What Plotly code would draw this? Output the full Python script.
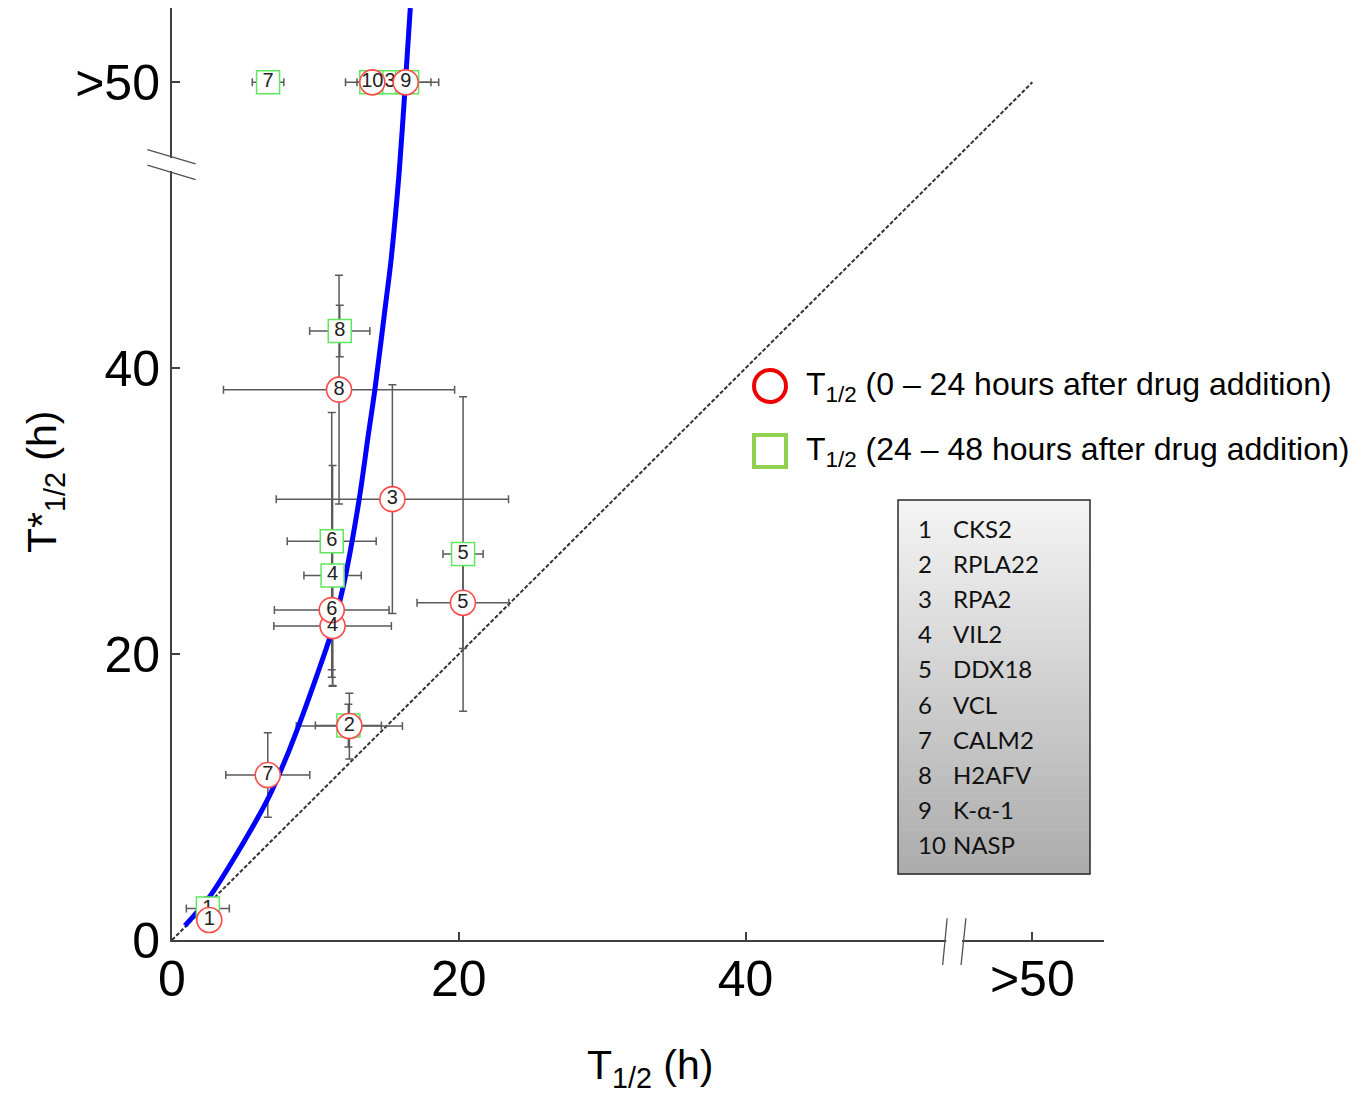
import plotly.graph_objects as go

# ---------------- data ----------------
GT50 = 60  # axis position used for the ">50" category
gene_ids = ["1", "2", "3", "4", "5", "6", "7", "8", "9", "10"]
gene_names = ["CKS2", "RPLA22", "RPA2", "VIL2", "DDX18", "VCL", "CALM2", "H2AFV", "K-α-1", "NASP"]

# 0-24 h after drug addition (red circles); None in T* means ">50"
red_T = [2.6, 12.37, 15.37, 11.2, 20.29, 11.14, 6.68, 11.65, 16.3, 13.97]
red_Ts = [1.4, 14.97, 30.84, 21.96, 23.59, 23.08, 11.54, 38.5, None, None]
red_xerr = [0.5, 3.7, 8.1, 4.1, 3.2, 4.0, 2.93, 8.06, 2.3, 1.87]
red_yerr = [0.5, 2.3, 8.0, 4.2, 3.2, 4.7, 2.95, 8.0, 0, 0]

# 24-48 h after drug addition (green squares)
green_T = [2.5, 12.3, 15.2, 11.2, 20.3, 11.14, 6.7, 11.7, 16.4, 13.9]
green_Ts = [2.2, 15.0, None, 25.5, 27.0, 27.9, None, 42.6, None, None]
green_xerr = [1.5, 2.3, 1.0, 2.0, 1.4, 3.1, 1.1, 2.1, 1.66, 1.0]
green_yerr = [0.8, 1.5, 0, 7.7, 11.0, 9.0, 0, 1.8, 0, 0]

# fitted curve (blue)
curve_T = [0.9, 2.6, 4.5, 6.75, 7.9, 8.95, 10.1, 11.15, 12.0, 13.05, 13.7, 14.15, 14.9, 15.27, 15.85, 16.28, 16.62]
curve_Ts = [1.0, 3.0, 6.0, 10.0, 12.6, 15.3, 18.5, 21.6, 25.0, 30.8, 35.4, 38.5, 44.5, 47.5, 53.8, 60.0, 65.2]

# identity line T* = T
diag_T = [0, 50]
diag_Ts = [0, 50]

tick_vals = [0, 20, 40, 50]
tick_text = ["0", "20", "40", ">50"]

legend_labels = ["T<sub>1/2</sub> (0 – 24 hours after drug addition)",
                 "T<sub>1/2</sub> (24 – 48 hours after drug addition)"]
x_title = "T<sub>1/2</sub> (h)"
y_title = "T*<sub>1/2</sub> (h)"

# ---------------- layout geometry ----------------
W, H = 1355, 1098
ML, MR, MT, MB = 172, 251, 8, 158
PW, PH = W - ML - MR, H - MT - MB
XMAX, YMAX = 65, 65.2


def pos(v):
    return GT50 if v is None else v


def px(x):
    return (x - ML) / PW


def py(y):
    return (MT + PH - y) / PH


red_y = [pos(v) for v in red_Ts]
green_y = [pos(v) for v in green_Ts]
tick_pos = [GT50 if t == ">50" else v for v, t in zip(tick_vals, tick_text)]
diag_plot = [GT50 if v == 50 else v for v in diag_T]
diag_plot_y = [GT50 if v == 50 else v for v in diag_Ts]

FONT = "Liberation Sans, Arial, sans-serif"
ERR = "#5a5a5a"
RED = "#ff4a4a"
GREEN = "#5ee65e"

fig = go.Figure()

# identity line
fig.add_trace(go.Scatter(x=diag_plot, y=diag_plot_y, mode="lines",
                         line=dict(color="#333333", width=2, dash="4px,2px"),
                         hoverinfo="skip", showlegend=False))

# error bars (drawn beneath all markers)
for xs, ys, ex, ey in [(red_T, red_y, red_xerr, red_yerr),
                       (green_T, green_y, green_xerr, green_yerr)]:
    fig.add_trace(go.Scatter(
        x=xs, y=ys, mode="markers",
        marker=dict(size=1, color="rgba(0,0,0,0)"),
        error_x=dict(type="data", array=ex, color=ERR, thickness=1.5, width=4),
        error_y=dict(type="data", array=ey, color=ERR, thickness=1.5, width=4),
        hoverinfo="skip", showlegend=False))

# blue curve
fig.add_trace(go.Scatter(x=curve_T, y=curve_Ts, mode="lines", line_shape="spline",
                         line=dict(color="#0000ff", width=5, smoothing=0.8),
                         hoverinfo="skip", showlegend=False))

# green squares
fig.add_trace(go.Scatter(
    x=green_T, y=green_y, mode="markers+text", text=gene_ids,
    textposition="middle center", textfont=dict(family=FONT, size=20, color="#222"),
    marker=dict(symbol="square", size=23, color="white", line=dict(color=GREEN, width=1.5)),
    showlegend=False))

# red circles
fig.add_trace(go.Scatter(
    x=red_T, y=red_y, mode="markers+text", text=gene_ids,
    textposition="middle center", textfont=dict(family=FONT, size=20, color="#222"),
    marker=dict(symbol="circle", size=25, color="white", line=dict(color=RED, width=1.6)),
    showlegend=False))

shapes = []
annotations = []


def dx(v):
    return v / XMAX


def dy(v):
    return v / YMAX


# axis breaks: white gaps then slashes (paper coords)
shapes.append(dict(type="line", xref="paper", yref="paper", x0=0, x1=0,
                   y0=dy(53.8), y1=dy(54.7), line=dict(color="white", width=6), layer="above"))
shapes.append(dict(type="line", xref="paper", yref="paper", x0=dx(54.0), x1=dx(55.1),
                   y0=0, y1=0, line=dict(color="white", width=6), layer="above"))
for (x0, y0, x1, y1) in [(-1.72, 55.3, 1.65, 54.3), (-1.72, 54.2, 1.65, 53.2)]:
    shapes.append(dict(type="line", xref="paper", yref="paper",
                       x0=dx(x0), y0=dy(y0), x1=dx(x1), y1=dy(y1),
                       line=dict(color="#505050", width=1.3), layer="above"))
for (x0, y0, x1, y1) in [(54.06, 1.52, 53.75, -1.75), (55.37, 1.52, 55.03, -1.75)]:
    shapes.append(dict(type="line", xref="paper", yref="paper",
                       x0=dx(x0), y0=dy(y0), x1=dx(x1), y1=dy(y1),
                       line=dict(color="#505050", width=1.3), layer="above"))

# legend symbols
r = 16
shapes.append(dict(type="circle", xref="paper", yref="paper",
                   x0=px(770 - r), x1=px(770 + r), y0=py(386 + r), y1=py(386 - r),
                   line=dict(color="#ee0000", width=4), fillcolor="white"))
shapes.append(dict(type="rect", xref="paper", yref="paper",
                   x0=px(770 - r), x1=px(770 + r), y0=py(451 + r), y1=py(451 - r),
                   line=dict(color="#92d050", width=4), fillcolor="white"))
for lab, yc in zip(legend_labels, [386, 451]):
    annotations.append(dict(text=lab, xref="paper", yref="paper", x=px(804), y=py(yc),
                            xanchor="left", yanchor="middle", showarrow=False,
                            font=dict(family=FONT, size=32, color="black")))

# gene box with vertical gradient
bx0, bx1, by0, by1 = 898, 1090, 500, 874
n = 60
for i in range(n):
    t = i / (n - 1)
    g = int(round(244 - t * (244 - 172)))
    ya = by0 + (by1 - by0) * i / n
    yb = by0 + (by1 - by0) * (i + 1) / n
    shapes.append(dict(type="rect", xref="paper", yref="paper",
                       x0=px(bx0), x1=px(bx1), y0=py(yb + 0.5), y1=py(ya),
                       line=dict(width=0), fillcolor=f"rgb({g},{g},{g})", layer="above"))
shapes.append(dict(type="rect", xref="paper", yref="paper",
                   x0=px(bx0), x1=px(bx1), y0=py(by1), y1=py(by0),
                   line=dict(color="#2a2a2a", width=1.5), fillcolor="rgba(0,0,0,0)", layer="above"))
for i, (gid, name) in enumerate(zip(gene_ids, gene_names)):
    yc = 528 + i * 35.2
    annotations.append(dict(text=gid, xref="paper", yref="paper", x=px(916), y=py(yc),
                            xanchor="left", yanchor="middle", showarrow=False,
                            font=dict(family="Lato, Carlito, sans-serif", size=24, color="#111")))
    annotations.append(dict(text=name, xref="paper", yref="paper", x=px(951), y=py(yc),
                            xanchor="left", yanchor="middle", showarrow=False,
                            font=dict(family="Lato, Carlito, sans-serif", size=24, color="#111")))

# axis titles
annotations.append(dict(text=x_title, xref="paper", yref="paper", x=px(650), y=py(1068),
                        xanchor="center", yanchor="middle", showarrow=False,
                        font=dict(family=FONT, size=41, color="black")))
annotations.append(dict(text=y_title, xref="paper", yref="paper", x=px(45), y=py(482),
                        xanchor="center", yanchor="middle", showarrow=False, textangle=-90,
                        font=dict(family=FONT, size=41, color="black")))

axis_common = dict(showgrid=False, zeroline=False, showline=True, linecolor="#404040",
                   linewidth=2, ticks="inside", ticklen=8, tickwidth=1.5, tickcolor="#404040",
                   tickvals=tick_pos, ticktext=tick_text,
                   tickfont=dict(family=FONT, size=50, color="black"))

fig.update_layout(
    width=W, height=H,
    margin=dict(l=ML, r=MR, t=MT, b=MB, pad=0),
    paper_bgcolor="white", plot_bgcolor="white",
    xaxis=dict(range=[0, XMAX], ticklabelstandoff=-6, **axis_common),
    yaxis=dict(range=[0, YMAX], **axis_common),
    shapes=shapes, annotations=annotations,
    showlegend=False,
)

fig.write_html("out.html")
